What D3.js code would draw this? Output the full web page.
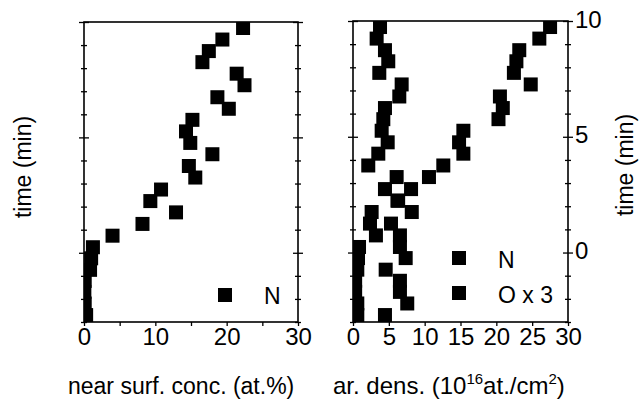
<!DOCTYPE html>
<html>
<head>
<meta charset="utf-8">
<script src="https://cdn.jsdelivr.net/npm/d3@7"></script>
<style>
  html, body { margin: 0; padding: 0; background: #fff; }
  svg { display: block; }
  text { font-family: "Liberation Sans", Arial, Helvetica, sans-serif; fill: #000; }
</style>
</head>
<body>
<svg id="chart" width="640" height="407"></svg>
<script>
// Sampling times (min), shared by all series
const timeMin = [9.74, 9.24, 8.74, 8.26, 7.76, 7.26, 6.74, 6.24, 5.76, 5.26,
                 4.76, 4.27, 3.76, 3.26, 2.74, 2.24, 1.75, 1.25, 0.74, 0.24,
                 -0.24, -0.74, -1.22, -1.7, -2.2, -2.7];

// Near-surface N concentration (at.%)
const surfN = [22.3, 19.4, 17.5, 16.6, 21.4, 22.5, 18.7, 20.3, 15.2, 14.3,
               14.9, 18.0, 14.7, 15.6, 10.8, 9.3, 12.9, 8.2, 4.0, 1.25,
               1.0, 0.85, 0.1, 0.05, 0.1, 0.3];

// Areal density of N (1e16 at./cm2)
const densN = [27.5, 26.0, 23.2, 22.8, 22.45, 24.8, 20.5, 20.9, 20.3, 15.4,
               14.8, 15.4, 12.6, 10.6, 8.1, 6.3, 8.2, 5.3, 3.2, 0.84,
               0.7, 0.6, 0.3, 0.3, 0.6, 0.6];

// Areal density of O, multiplied by 3
const densO3 = [3.77, 3.3, 4.46, 4.92, 3.67, 6.79, 6.46, 4.46, 4.23, 4.0,
                4.84, 3.53, 2.13, 6.09, 4.46, 6.2, 2.6, 2.37, 6.55, 6.55,
                7.35, 4.56, 6.55, 6.55, 7.57, 4.46];

// Axis settings
const timeDomain = [-3, 10];
const minorTimeTicks = d3.range(-3, 11, 1);
const majorTimeTicks = [0, 5, 10];
const leftXLabels = [0, 10, 20, 30];
const leftXTicks = [0, 5, 10, 15, 20, 25, 30];
const rightXTicks = [0, 5, 10, 15, 20, 25, 30];

const leftTitle = "near surf. conc. (at.%)";
const timeTitle = "time (min)";
const legendLeft = ["N"];
const legendRight = ["N", "O x 3"];

const svg = d3.select("#chart");
const MARK = 14;
const FS = 23;

function panel(id, xRange, yRange) {
  const x = d3.scaleLinear().domain([0, 30]).range(xRange);
  const y = d3.scaleLinear().domain(timeDomain).range(yRange);
  const g = svg.append("g");
  g.append("clipPath").attr("id", id)
    .append("rect")
    .attr("x", xRange[0]).attr("y", yRange[1])
    .attr("width", xRange[1] - xRange[0]).attr("height", yRange[0] - yRange[1]);
  return { x, y, g };
}

function frame(p) {
  const [x0, x1] = p.x.range();
  const [yb, yt] = p.y.range();
  p.g.append("rect")
    .attr("x", x0).attr("y", yt)
    .attr("width", x1 - x0).attr("height", yb - yt)
    .attr("fill", "none").attr("stroke", "#000").attr("stroke-width", 1.6);
}

// Tick marks crossing a vertical axis on both sides
function crossTicks(p, xPos, values, half) {
  [d3.axisLeft, d3.axisRight].forEach(axisFn => {
    const a = p.g.append("g")
      .attr("transform", `translate(${xPos},0)`)
      .call(axisFn(p.y).tickValues(values).tickSize(half).tickFormat(""));
    a.select(".domain").remove();
    a.selectAll("line").attr("stroke", "#000").attr("stroke-width", 1.3);
  });
}

function timeTicks(p) {
  const [x0, x1] = p.x.range();
  const minors = minorTimeTicks.filter(t => !majorTimeTicks.includes(t));
  [x0, x1].forEach(xp => {
    crossTicks(p, xp, minors, 3);
    crossTicks(p, xp, majorTimeTicks, 5);
  });
}

function bottomAxis(p, ticks, labels) {
  const yb = p.y.range()[0];
  const a = p.g.append("g")
    .attr("transform", `translate(0,${yb})`)
    .call(d3.axisBottom(p.x).tickValues(ticks).tickSize(4).tickPadding(2)
      .tickFormat(d => labels.includes(d) ? d3.format("d")(d) : ""));
  a.select(".domain").remove();
  a.selectAll("line").attr("stroke", "#000").attr("stroke-width", 1.3);
  a.selectAll("text").style("font-size", "24px")
    .style("font-family", '"Liberation Sans", Arial, sans-serif').attr("fill", "#000");
}

function squares(p, clipId, xs, ys) {
  p.g.append("g").attr("clip-path", `url(#${clipId})`)
    .selectAll("rect").data(xs.map((v, i) => [v, ys[i]])).join("rect")
    .attr("x", d => p.x(d[0]) - MARK / 2)
    .attr("y", d => p.y(d[1]) - MARK / 2)
    .attr("width", MARK).attr("height", MARK)
    .attr("fill", "#000");
}

// ---- Left panel: near-surface concentration ----
const L = panel("clipL", [84, 298], [322, 22]);
squares(L, "clipL", surfN, timeMin);
frame(L);
timeTicks(L);
bottomAxis(L, leftXTicks, leftXLabels);

// ---- Right panel: areal densities ----
const R = panel("clipR", [353, 568], [322, 21]);
squares(R, "clipR", densN, timeMin);
squares(R, "clipR", densO3, timeMin);
frame(R);
timeTicks(R);
bottomAxis(R, rightXTicks, rightXTicks);

// Time labels on the right-hand axis
const ra = R.g.append("g")
  .attr("transform", `translate(${R.x.range()[1]},0)`)
  .call(d3.axisRight(R.y).tickValues(majorTimeTicks).tickSize(0).tickPadding(7).tickFormat(d3.format("d")));
ra.select(".domain").remove();
ra.selectAll("text").style("font-size", "24px")
  .style("font-family", '"Liberation Sans", Arial, sans-serif')
  .attr("dy", "0.25em").attr("fill", "#000");

// ---- Legends ----
function legendItem(cx, cy, label, tx, ty) {
  svg.append("rect").attr("x", cx - MARK / 2).attr("y", cy - MARK / 2)
    .attr("width", MARK).attr("height", MARK).attr("fill", "#000");
  svg.append("text").attr("x", tx).attr("y", ty)
    .style("font-size", FS + "px").text(label);
}
legendItem(225, 295, legendLeft[0], 264, 304);
legendItem(459, 258, legendRight[0], 498, 268);
legendItem(459, 293, legendRight[1], 498, 303);

// ---- Axis titles ----
svg.append("text").attr("x", 68).attr("y", 394)
  .style("font-size", FS + "px").text(leftTitle);

const rt = svg.append("text").attr("x", 333).attr("y", 394).style("font-size", "24px");
rt.append("tspan").text("ar. dens. (10");
rt.append("tspan").attr("dy", -10).style("font-size", "15px").text("16");
rt.append("tspan").attr("dy", 10).text("at./cm");
rt.append("tspan").attr("dy", -10).style("font-size", "15px").text("2");
rt.append("tspan").attr("dy", 10).text(")");

svg.append("text")
  .attr("transform", "translate(31,167) rotate(-90)")
  .attr("text-anchor", "middle")
  .style("font-size", FS + "px").text(timeTitle);

svg.append("text")
  .attr("transform", "translate(633,165) rotate(-90)")
  .attr("text-anchor", "middle")
  .style("font-size", FS + "px").text(timeTitle);
</script>
</body>
</html>
